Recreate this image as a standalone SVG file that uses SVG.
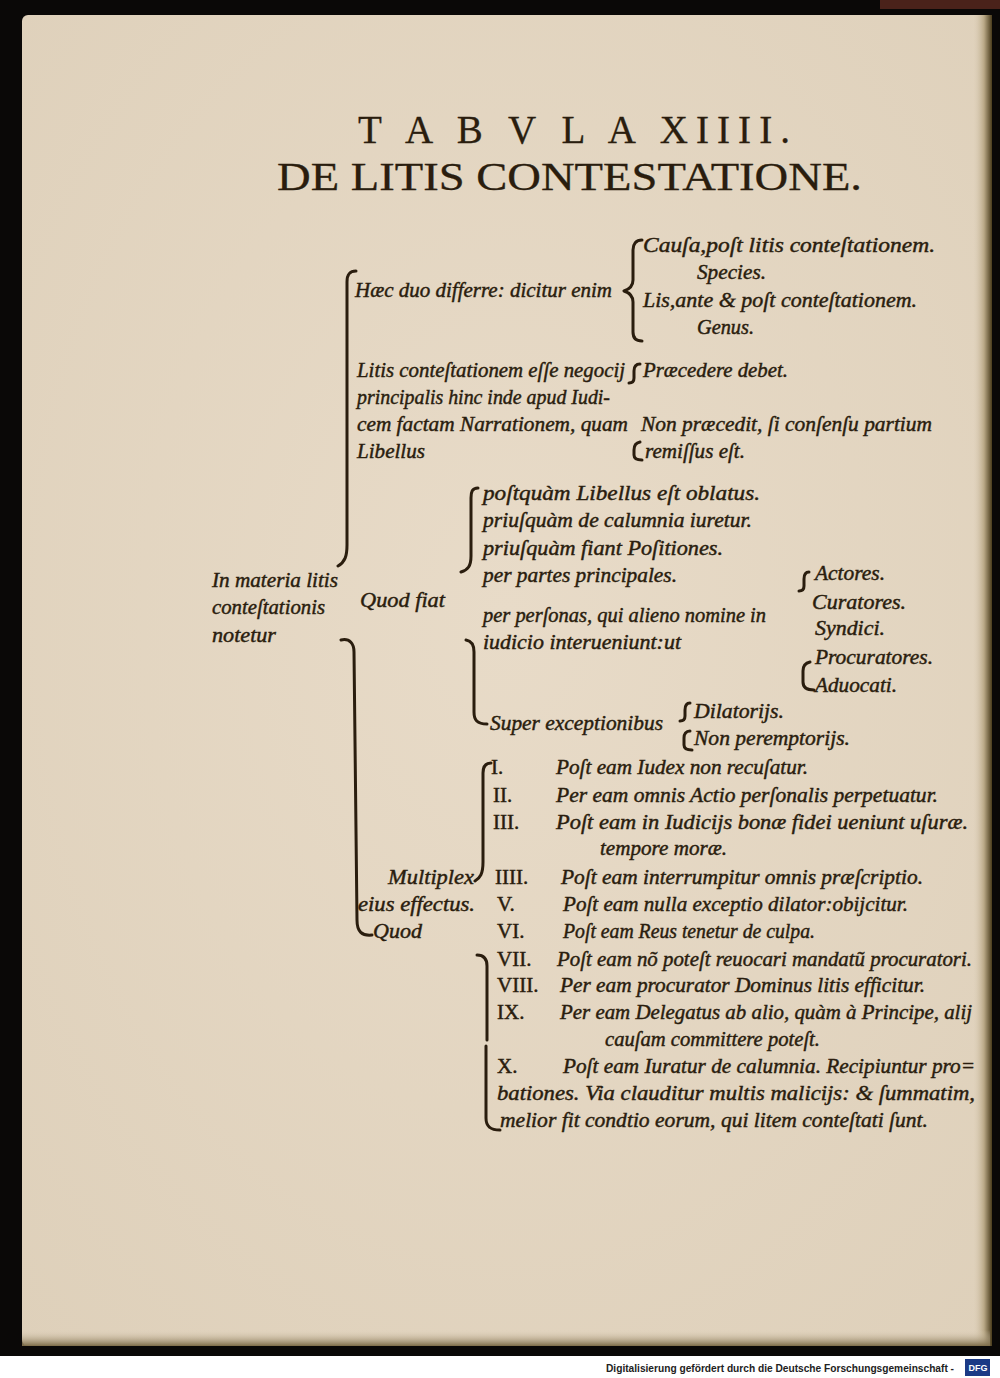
<svg xmlns="http://www.w3.org/2000/svg" width="1000" height="1378" viewBox="0 0 1000 1378">
<defs>
<linearGradient id="edgeR" x1="0" y1="0" x2="1" y2="0">
<stop offset="0" stop-color="#e3d5c0" stop-opacity="0"/>
<stop offset="0.6" stop-color="#b9a886"/>
<stop offset="1" stop-color="#4a3c1c"/>
</linearGradient>
<radialGradient id="paper" cx="0.5" cy="0.45" r="0.75">
<stop offset="0" stop-color="#e8dbc8"/>
<stop offset="1" stop-color="#ded0ba"/>
</radialGradient>
<linearGradient id="edgeB" x1="0" y1="0" x2="0" y2="1">
<stop offset="0" stop-color="#e0d2bc" stop-opacity="0"/>
<stop offset="1" stop-color="#7d6c48"/>
</linearGradient>
</defs>
<style>
.t{font-family:"Liberation Serif","DejaVu Serif",serif;font-style:italic;font-size:21px;fill:#2a1d0e;stroke:#2a1d0e;stroke-width:0.45}
.r{font-style:normal}
.h{font-family:"Liberation Serif","DejaVu Serif",serif;font-size:39px;fill:#2a1d0e;stroke:#2a1d0e;stroke-width:0.3}
.b{fill:none;stroke:#2a1d0e;stroke-width:3;stroke-linecap:round;stroke-linejoin:round}
.f{font-family:"Liberation Sans","DejaVu Sans",sans-serif;font-size:11px;font-weight:bold;fill:#222}
</style>
<rect x="0" y="0" width="1000" height="1378" fill="#ffffff"/>
<rect x="0" y="0" width="1000" height="1356" fill="#0a0807"/>
<rect x="880" y="0" width="120" height="9" fill="#4a221a"/>
<rect x="22" y="15" width="968" height="1331" rx="6" fill="url(#paper)"/>
<rect x="972" y="15" width="20" height="1331" fill="url(#edgeR)"/>
<rect x="22" y="1330" width="968" height="16" fill="url(#edgeB)"/>

<g id="title">
<text class="h" x="358" y="143" textLength="432" lengthAdjust="spacing">T A B V L A  XIIII.</text>
<text class="h" x="277" y="190" textLength="585" lengthAdjust="spacingAndGlyphs">DE LITIS CONTESTATIONE.</text>
</g>

<g id="connectors">
<path class="b" d="M356 271 C349 271 347 275 347 282 L347 545 C347 556 345 562 338 566"/>
<path class="b" d="M341 640 C350 638 354 644 354 652 L357 920 C357 932 362 936 372 935"/>
<path class="b" d="M478 488 C472 488 471 492 471 498 L471 556 C471 566 468 570 461 572"/>
<path class="b" d="M466 640 C472 641 474 645 474 652 L474 712 C474 720 477 724 487 724"/>
<path class="b" d="M491 763 C485 763 483 767 483 773 L483 862 C483 874 480 878 475 881"/>
<path class="b" d="M477 955 C484 955 487 959 487 966 L487 1040 M486 1046 L486 1118 C486 1126 490 1130 500 1130"/>
<path class="b" d="M642 240 C636 240 633 244 633 250 L633 280 C633 286 630 289 624 291 C630 293 633 296 633 302 L633 332 C633 338 636 341 642 341"/>
<path class="b" stroke-width="2" d="M640 364 C635 364 634 367 634 371 L634 378 C634 382 632 383 629 383"/>
<path class="b" stroke-width="2" d="M640 442 C635 443 634 446 634 450 L634 455 C634 459 637 460 642 460"/>
<path class="b" stroke-width="2" d="M809 572 C805 572 804 575 804 579 L804 586 C804 590 802 591 799 591"/>
<path class="b" stroke-width="2.4" d="M810 662 C805 663 803 667 803 671 L803 682 C803 688 807 690 814 690"/>
<path class="b" stroke-width="2" d="M690 703 C686 703 685 706 685 710 L685 716 C685 720 683 721 680 721"/>
<path class="b" stroke-width="2" d="M690 731 C686 731 684 734 684 738 L684 745 C684 749 687 750 692 750"/>
</g>

<g id="node-root">
<text class="t" x="212" y="587" textLength="126" lengthAdjust="spacingAndGlyphs">In materia litis</text>
<text class="t" x="212" y="614" textLength="113" lengthAdjust="spacingAndGlyphs">conteſtationis</text>
<text class="t" x="212" y="642" textLength="64" lengthAdjust="spacingAndGlyphs">notetur</text>
</g>

<g id="node-haec">
<text class="t" x="355" y="297" textLength="257" lengthAdjust="spacingAndGlyphs">Hæc duo differre: dicitur enim</text>
<text class="t" x="643" y="252" textLength="292" lengthAdjust="spacingAndGlyphs">Cauſa,poſt litis conteſtationem.</text>
<text class="t" x="697" y="279" textLength="69" lengthAdjust="spacingAndGlyphs">Species.</text>
<text class="t" x="643" y="307" textLength="274" lengthAdjust="spacingAndGlyphs">Lis,ante &amp; poſt conteſtationem.</text>
<text class="t" x="697" y="334" textLength="57" lengthAdjust="spacingAndGlyphs">Genus.</text>
</g>

<g id="node-litis">
<text class="t" x="357" y="377" textLength="268" lengthAdjust="spacingAndGlyphs">Litis conteſtationem eſſe negocij</text>
<text class="t" x="357" y="404" textLength="253" lengthAdjust="spacingAndGlyphs">principalis hinc inde apud Iudi-</text>
<text class="t" x="357" y="431" textLength="271" lengthAdjust="spacingAndGlyphs">cem factam Narrationem, quam</text>
<text class="t" x="357" y="458" textLength="68" lengthAdjust="spacingAndGlyphs">Libellus</text>
<text class="t" x="643" y="377" textLength="145" lengthAdjust="spacingAndGlyphs">Præcedere debet.</text>
<text class="t" x="641" y="431" textLength="291" lengthAdjust="spacingAndGlyphs">Non præcedit, ſi conſenſu partium</text>
<text class="t" x="645" y="458" textLength="100" lengthAdjust="spacingAndGlyphs">remiſſus eſt.</text>
</g>

<g id="node-quodfiat">
<text class="t" x="360" y="607" textLength="85" lengthAdjust="spacingAndGlyphs">Quod fiat</text>
<text class="t" x="483" y="500" textLength="277" lengthAdjust="spacingAndGlyphs">poſtquàm Libellus eſt oblatus.</text>
<text class="t" x="483" y="527" textLength="269" lengthAdjust="spacingAndGlyphs">priuſquàm de calumnia iuretur.</text>
<text class="t" x="483" y="555" textLength="240" lengthAdjust="spacingAndGlyphs">priuſquàm fiant Poſitiones.</text>
<text class="t" x="483" y="582" textLength="194" lengthAdjust="spacingAndGlyphs">per partes principales.</text>
<text class="t" x="483" y="622" textLength="283" lengthAdjust="spacingAndGlyphs">per perſonas, qui alieno nomine in</text>
<text class="t" x="483" y="649" textLength="198" lengthAdjust="spacingAndGlyphs">iudicio interueniunt:ut</text>
<text class="t" x="490" y="730" textLength="173" lengthAdjust="spacingAndGlyphs">Super exceptionibus</text>
</g>

<g id="node-personae">
<text class="t" x="815" y="580" textLength="70" lengthAdjust="spacingAndGlyphs">Actores.</text>
<text class="t" x="812" y="609" textLength="94" lengthAdjust="spacingAndGlyphs">Curatores.</text>
<text class="t" x="815" y="635" textLength="70" lengthAdjust="spacingAndGlyphs">Syndici.</text>
<text class="t" x="815" y="664" textLength="118" lengthAdjust="spacingAndGlyphs">Procuratores.</text>
<text class="t" x="815" y="692" textLength="82" lengthAdjust="spacingAndGlyphs">Aduocati.</text>
</g>

<g id="node-exceptiones">
<text class="t" x="694" y="718" textLength="90" lengthAdjust="spacingAndGlyphs">Dilatorijs.</text>
<text class="t" x="694" y="745" textLength="156" lengthAdjust="spacingAndGlyphs">Non peremptorijs.</text>
</g>

<g id="node-multiplex">
<text class="t" x="388" y="884" textLength="86" lengthAdjust="spacingAndGlyphs">Multiplex</text>
<text class="t" x="358" y="911" textLength="117" lengthAdjust="spacingAndGlyphs">eius effectus.</text>
<text class="t" x="373" y="938" textLength="49" lengthAdjust="spacingAndGlyphs">Quod</text>
</g>

<g id="node-effectus">
<text class="t r" x="491" y="774">I.</text>
<text class="t" x="556" y="774" textLength="252" lengthAdjust="spacingAndGlyphs">Poſt eam Iudex non recuſatur.</text>
<text class="t r" x="493" y="802">II.</text>
<text class="t" x="556" y="802" textLength="382" lengthAdjust="spacingAndGlyphs">Per eam omnis Actio perſonalis perpetuatur.</text>
<text class="t r" x="493" y="829">III.</text>
<text class="t" x="556" y="829" textLength="412" lengthAdjust="spacingAndGlyphs">Poſt eam in Iudicijs bonæ fidei ueniunt uſuræ.</text>
<text class="t" x="600" y="855" textLength="127" lengthAdjust="spacingAndGlyphs">tempore moræ.</text>
<text class="t r" x="495" y="884">IIII.</text>
<text class="t" x="561" y="884" textLength="362" lengthAdjust="spacingAndGlyphs">Poſt eam interrumpitur omnis præſcriptio.</text>
<text class="t r" x="497" y="911">V.</text>
<text class="t" x="563" y="911" textLength="345" lengthAdjust="spacingAndGlyphs">Poſt eam nulla exceptio dilator:obijcitur.</text>
<text class="t r" x="497" y="938">VI.</text>
<text class="t" x="563" y="938" textLength="252" lengthAdjust="spacingAndGlyphs">Poſt eam Reus tenetur de culpa.</text>
<text class="t r" x="497" y="966">VII.</text>
<text class="t" x="557" y="966" textLength="415" lengthAdjust="spacingAndGlyphs">Poſt eam nõ poteſt reuocari mandatũ procuratori.</text>
<text class="t r" x="497" y="992">VIII.</text>
<text class="t" x="560" y="992" textLength="365" lengthAdjust="spacingAndGlyphs">Per eam procurator Dominus litis efficitur.</text>
<text class="t r" x="497" y="1019">IX.</text>
<text class="t" x="560" y="1019" textLength="412" lengthAdjust="spacingAndGlyphs">Per eam Delegatus ab alio, quàm à Principe, alij</text>
<text class="t" x="605" y="1046" textLength="215" lengthAdjust="spacingAndGlyphs">cauſam committere poteſt.</text>
<text class="t r" x="497" y="1073">X.</text>
<text class="t" x="563" y="1073" textLength="412" lengthAdjust="spacingAndGlyphs">Poſt eam Iuratur de calumnia. Recipiuntur pro=</text>
<text class="t" x="497" y="1100" textLength="478" lengthAdjust="spacingAndGlyphs">bationes. Via clauditur multis malicijs: &amp; ſummatim,</text>
<text class="t" x="500" y="1127" textLength="428" lengthAdjust="spacingAndGlyphs">melior fit condtio eorum, qui litem conteſtati ſunt.</text>
</g>

<g id="footer">
<text class="f" transform="translate(606 1372) scale(0.8 1)" x="0" y="0" textLength="435" lengthAdjust="spacingAndGlyphs">Digitalisierung gefördert durch die Deutsche Forschungsgemeinschaft -</text>
<rect x="965" y="1359" width="25" height="17" fill="#1b3a86"/>
<text x="978" y="1371" text-anchor="middle" font-family="Liberation Sans, DejaVu Sans, sans-serif" font-size="9" font-weight="bold" fill="#ffffff">DFG</text>
</g>
</svg>
